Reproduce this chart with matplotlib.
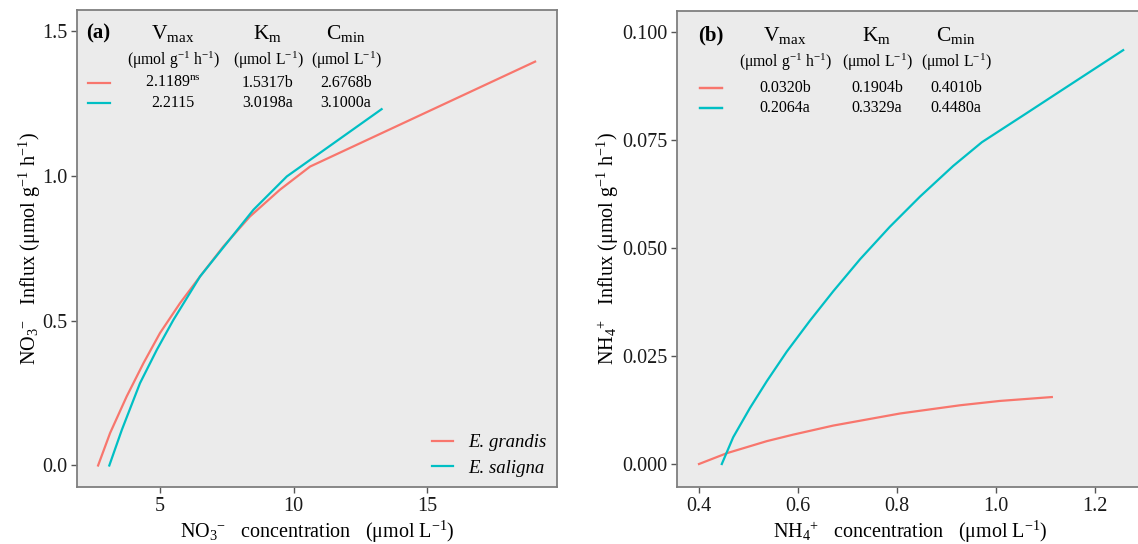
"""
Curvas de influxo de NO3- e NH4+ para E. grandis y E. saligna.
Genera out.png (paneles a y b).
"""

import matplotlib.pyplot as plt
from matplotlib.font_manager import FontProperties


# ============================================================
# DATOS
# ============================================================

SPECIES = ["E. grandis", "E. saligna"]

NO3_GRANDIS_X = [2.68, 3.13, 3.75, 4.38, 5.00, 5.75, 6.50, 7.37, 8.37, 9.49, 10.62, 19.05]
NO3_GRANDIS_Y = [0.000, 0.112, 0.238, 0.353, 0.457, 0.560, 0.652, 0.755, 0.859, 0.951, 1.031, 1.393]

NO3_SALIGNA_X = [3.10, 3.57, 4.25, 4.88, 5.50, 6.50, 7.50, 8.50, 9.75, 13.30]
NO3_SALIGNA_Y = [0.000, 0.123, 0.284, 0.399, 0.502, 0.652, 0.767, 0.882, 0.997, 1.229]

NH4_GRANDIS_X = [0.401, 0.457, 0.538, 0.591, 0.672, 0.807, 0.928, 1.008, 1.113]
NH4_GRANDIS_Y = [0.0000, 0.0025, 0.0053, 0.0068, 0.0089, 0.0117, 0.0136, 0.0146, 0.0155]

NH4_SALIGNA_X = [0.447, 0.470, 0.504, 0.538, 0.578, 0.625, 0.672, 0.726, 0.786,
                 0.847, 0.914, 0.972, 1.062, 1.130, 1.257]
NH4_SALIGNA_Y = [0.0000, 0.0062, 0.0130, 0.0192, 0.0260, 0.0332, 0.0400, 0.0474, 0.0549,
                 0.0619, 0.0690, 0.0745, 0.0812, 0.0863, 0.0958]

TABLE_HEADERS = [r"$\mathregular{V}_{\mathregular{max}}$",
                 r"$\mathregular{K}_{\mathregular{m}}$",
                 r"$\mathregular{C}_{\mathregular{min}}$"]
TABLE_UNITS = [r"(μmol g$^{\mathregular{-1}}$ h$^{\mathregular{-1}}$)",
               r"(μmol L$^{\mathregular{-1}}$)",
               r"(μmol L$^{\mathregular{-1}}$)"]

TABLE_A_ROWS = [[r"2.1189$^{\mathregular{ns}}$", "1.5317b", "2.6768b"],
                ["2.2115", "3.0198a", "3.1000a"]]
TABLE_B_ROWS = [["0.0320b", "0.1904b", "0.4010b"],
                ["0.2064a", "0.3329a", "0.4480a"]]

A_XTICKS = [5, 10, 15]
A_YTICKS = [0.0, 0.5, 1.0, 1.5]
B_XTICKS = [0.4, 0.6, 0.8, 1.0, 1.2]
B_YTICKS = [0.000, 0.025, 0.050, 0.075, 0.100]


# ============================================================
# CONFIGURACIÓN GENERAL
# ============================================================

FIG_W = 1138
FIG_H = 544

COLORS = ["#F8766D", "#00BFC4"]
PANEL_BG = "#EBEBEB"
SERIF = "Liberation Serif"

plt.rcParams["font.family"] = SERIF
plt.rcParams["mathtext.fontset"] = "custom"
plt.rcParams["mathtext.rm"] = SERIF
plt.rcParams["mathtext.it"] = SERIF + ":italic"
plt.rcParams["mathtext.bf"] = SERIF + ":bold"


def px_text(fig, x, y, s, **kw):
    # texto colocado en píxeles de la imagen final
    fig.text(x / FIG_W, 1 - y / FIG_H, s, **kw)


def style_axes(ax, xlim, ylim, xticks, yticks, xfmt, yfmt):

    ax.set_facecolor(PANEL_BG)
    ax.set_xlim(*xlim)
    ax.set_ylim(*ylim)

    ax.set_xticks(xticks)
    ax.set_xticklabels([xfmt.format(v) for v in xticks])
    ax.set_yticks(yticks)
    ax.set_yticklabels([yfmt.format(v) for v in yticks])

    ax.tick_params(length=4, width=1, color="#555555",
                   labelsize=14.5, labelcolor="#1a1a1a", pad=3)

    for spine in ax.spines.values():
        spine.set_color("#7F7F7F")
        spine.set_linewidth(1.3)


def draw_table(fig, ax, label, cols_x, rows, y_head, y_units, y_rows, key_x):

    px_text(fig, key_x - 2, y_head, label, fontsize=15, fontweight="bold",
            ha="left", va="center")

    for x, head, unit in zip(cols_x, TABLE_HEADERS, TABLE_UNITS):
        px_text(fig, x, y_head, head, fontsize=15.5, ha="center", va="center")
        px_text(fig, x, y_units, unit, fontsize=11.3, ha="center", va="center")

    for row, y in zip(rows, y_rows):
        for x, value in zip(cols_x, row):
            px_text(fig, x, y + 1, value, fontsize=11.5, ha="center", va="center")

    # claves de color de la tabla
    handles = ax.get_lines()
    key = ax.legend(handles, [" ", " "], loc="upper left",
                    bbox_to_anchor=(key_x / FIG_W, 1 - (y_rows[0] - 4) / FIG_H),
                    bbox_transform=fig.transFigure, frameon=False,
                    fontsize=11, handlelength=1.45, handletextpad=0.0,
                    labelspacing=0.42, borderpad=0.0, borderaxespad=0.0)
    return key


# ============================================================
# FIGURA
# ============================================================

def main() -> None:

    fig = plt.figure(figsize=(FIG_W / 100, FIG_H / 100), dpi=100)

    ax_a = fig.add_axes([77 / FIG_W, 1 - 487 / FIG_H, 480 / FIG_W, 477 / FIG_H])
    ax_b = fig.add_axes([677 / FIG_W, 1 - 487 / FIG_H, 466 / FIG_W, 476 / FIG_H])

    # ---------------- panel (a) ----------------
    ax_a.plot(NO3_GRANDIS_X, NO3_GRANDIS_Y, color=COLORS[0], lw=1.6)
    ax_a.plot(NO3_SALIGNA_X, NO3_SALIGNA_Y, color=COLORS[1], lw=1.6)

    style_axes(ax_a, (1.89, 19.87), (-0.0742, 1.571),
               A_XTICKS, A_YTICKS, "{:g}", "{:.1f}")

    ax_a.set_xlabel(r"NO$_3$$^{-}$   concentration   (μmol L$^{\mathregular{-1}}$)",
                    fontsize=14.5, labelpad=2)
    ax_a.set_ylabel(r"NO$_3$$^{-}$   Influx (μmol g$^{-1}$ h$^{-1}$)",
                    fontsize=14.5, labelpad=-1)

    key_a = draw_table(fig, ax_a, "(a)", [173, 268, 346], TABLE_A_ROWS,
                       33, 60, [82, 102], 88)
    ax_a.add_artist(key_a)

    ax_a.legend(ax_a.get_lines(), SPECIES, loc="lower right", frameon=False,
                prop=FontProperties(family=SERIF, style="italic", size=13.5),
                handlelength=1.15, handletextpad=0.8, labelspacing=0.45,
                borderpad=0.4, borderaxespad=0.15)

    # ---------------- panel (b) ----------------
    ax_b.plot(NH4_GRANDIS_X, NH4_GRANDIS_Y, color=COLORS[0], lw=1.6)
    ax_b.plot(NH4_SALIGNA_X, NH4_SALIGNA_Y, color=COLORS[1], lw=1.6)

    style_axes(ax_b, (0.3566, 1.297), (-0.00532, 0.10486),
               B_XTICKS, B_YTICKS, "{:.1f}", "{:.3f}")

    ax_b.set_xlabel(r"NH$_4$$^{+}$   concentration   (μmol L$^{\mathregular{-1}}$)",
                    fontsize=14.5, labelpad=2)
    ax_b.set_ylabel(r"NH$_4$$^{+}$   Influx (μmol g$^{-1}$ h$^{-1}$)",
                    fontsize=14.5, labelpad=1)

    key_b = draw_table(fig, ax_b, "(b)", [785, 877, 956], TABLE_B_ROWS,
                       35, 62, [87, 107], 700)
    ax_b.add_artist(key_b)

    fig.savefig("out.png", dpi=100, facecolor="white")
    plt.close(fig)


if __name__ == "__main__":
    main()
